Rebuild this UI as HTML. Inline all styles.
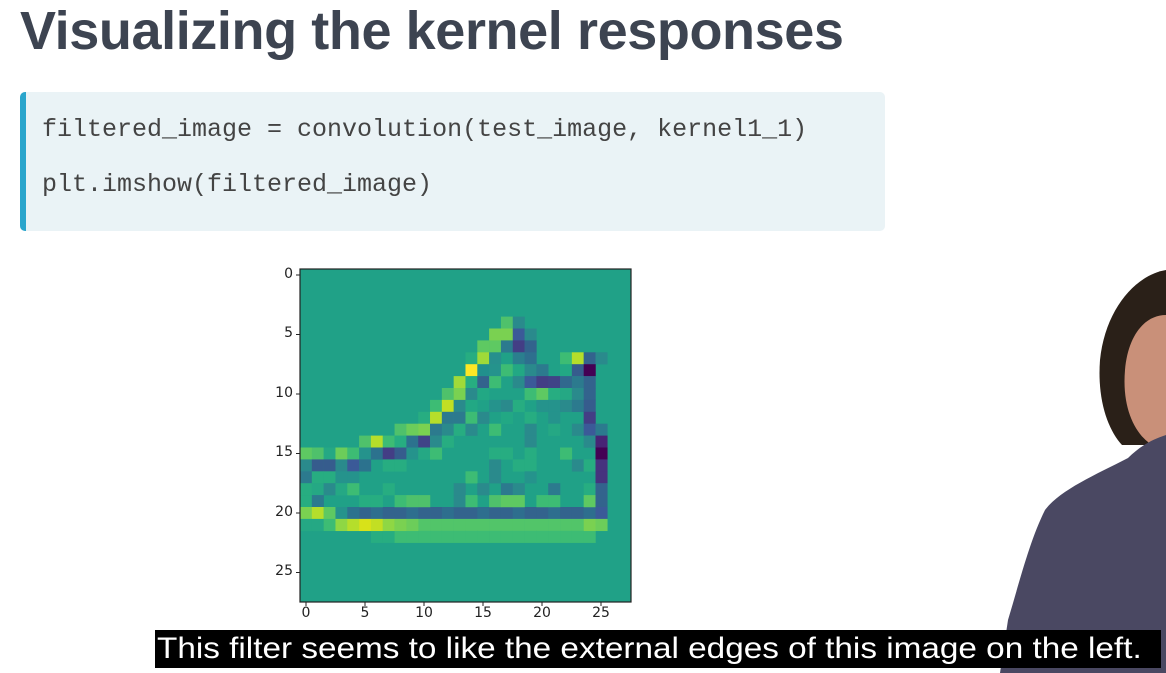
<!DOCTYPE html>
<html><head><meta charset="utf-8"><style>
body{margin:0;width:1166px;height:673px;background:#fff;position:relative;overflow:hidden;font-family:"Liberation Sans",sans-serif}
.t{position:absolute;left:20px;top:0px;font-weight:bold;font-size:54px;color:#3d4451;letter-spacing:-0.4px;white-space:nowrap}
.code{position:absolute;left:20px;top:92px;width:865px;height:139px;background:#eaf3f6;border-radius:5px;border-left:6px solid #2aa5cc;box-sizing:border-box}
.code div{position:absolute;left:16px;font-family:"Liberation Mono",monospace;font-size:25px;color:#444;white-space:nowrap}
.yl{position:absolute;font-family:"DejaVu Sans",sans-serif;font-size:14px;color:#222;text-align:right;width:30px}
.xl{position:absolute;font-family:"DejaVu Sans",sans-serif;font-size:14px;color:#222;text-align:center;width:30px;top:605px}
.sub{position:absolute;left:155px;top:630px;width:1006px;height:38px;background:#000;color:#fff;font-size:30px;line-height:38px;white-space:nowrap;padding-left:2px;box-sizing:border-box}
.sub span{display:inline-block;transform:scaleX(1.11);transform-origin:left center}
</style></head><body>
<div class="t">Visualizing the kernel responses</div>
<div class="code"><div style="top:23px">filtered_image = convolution(test_image, kernel1_1)</div><div style="top:78px">plt.imshow(filtered_image)</div></div>

<svg style="position:absolute;left:0;top:0" width="1166" height="673">
<g transform="translate(1000,270)">
<path d="M166 0 C135 5 105 40 100 90 C97 130 108 160 122 175 L166 175 Z" fill="#2a2018"/>
<path d="M166 45 C145 45 128 65 125 100 C122 135 133 160 148 172 C153 180 160 185 166 186 Z" fill="#c99079"/>
<path d="M166 165 C150 170 138 178 128 188 C95 205 60 220 45 240 C30 270 20 310 8 350 L0 403 L166 403 Z" fill="#4a4862"/>
</g>
<g transform="translate(300,269) scale(11.82,11.9)">
<rect width="28" height="28" fill="#20a187"/>
<g id="c"></g>
</g>
<rect x="300" y="269" width="331" height="333" fill="none" stroke="#222" stroke-width="1.2"/>
<g stroke="#222" stroke-width="1">
<line x1="296" y1="275" x2="300" y2="275"/><line x1="296" y1="334.5" x2="300" y2="334.5"/><line x1="296" y1="394" x2="300" y2="394"/><line x1="296" y1="453.5" x2="300" y2="453.5"/><line x1="296" y1="513" x2="300" y2="513"/><line x1="296" y1="572.5" x2="300" y2="572.5"/>
<line x1="306" y1="602" x2="306" y2="606"/><line x1="365" y1="602" x2="365" y2="606"/><line x1="424" y1="602" x2="424" y2="606"/><line x1="483" y1="602" x2="483" y2="606"/><line x1="542" y1="602" x2="542" y2="606"/><line x1="601" y1="602" x2="601" y2="606"/>
</g>
</svg>
<div class="yl" style="left:263px;top:266px">0</div><div class="yl" style="left:263px;top:325px">5</div><div class="yl" style="left:263px;top:385px">10</div><div class="yl" style="left:263px;top:444px">15</div><div class="yl" style="left:263px;top:504px">20</div><div class="yl" style="left:263px;top:563px">25</div>
<div class="xl" style="left:291px">0</div><div class="xl" style="left:350px">5</div><div class="xl" style="left:409px">10</div><div class="xl" style="left:468px">15</div><div class="xl" style="left:527px">20</div><div class="xl" style="left:586px">25</div>
<div class="sub"><span>This filter seems to like the external edges of this image on the left.</span></div>
<script>
var cells=[
[4,17,'#4fc16b'],[4,18,'#2a8a8c'],
[5,16,'#7ad151'],[5,17,'#7ad151'],[5,18,'#3b5a98'],[5,19,'#2a8a8c'],
[6,15,'#5ec962'],[6,16,'#5ec962'],[6,17,'#2c7a8e'],[6,18,'#433e85'],[6,19,'#33638d'],
[7,14,'#27ad81'],[7,15,'#a0da39'],[7,16,'#27908d'],[7,18,'#2a7f8e'],[7,19,'#2e6f8e'],[7,22,'#3dbc74'],[7,23,'#b5de2b'],[7,24,'#33638d'],[7,25,'#2a8a8c'],
[8,14,'#fde725'],[8,15,'#21908d'],[8,16,'#25938c'],[8,17,'#3dbc74'],[8,18,'#22a884'],[8,19,'#2a8a8c'],[8,20,'#2c7a8e'],[8,22,'#22a884'],[8,23,'#365c8d'],[8,24,'#440154'],
[9,13,'#a0da39'],[9,14,'#27ad81'],[9,15,'#33638d'],[9,16,'#3dbc74'],[9,18,'#2a8a8c'],[9,19,'#3b5a98'],[9,20,'#433e85'],[9,21,'#404387'],[9,22,'#31688e'],[9,23,'#2c7a8e'],[9,24,'#33638d'],
[10,12,'#4fc16b'],[10,13,'#7ad151'],[10,14,'#2a8a8c'],[10,15,'#22a884'],[10,19,'#3dbc74'],[10,20,'#5ec962'],[10,21,'#27ad81'],[10,22,'#25a884'],[10,23,'#2a8a8c'],[10,24,'#33638d'],
[11,11,'#3dbc74'],[11,12,'#c2df23'],[11,13,'#2a8a8c'],[11,14,'#22a884'],[11,16,'#25938c'],[11,17,'#2a8a8c'],[11,18,'#27ad81'],[11,20,'#25938c'],[11,21,'#25938c'],[11,22,'#2a8a8c'],[11,23,'#2c7a8e'],[11,24,'#365c8d'],
[12,10,'#27ad81'],[12,11,'#b5de2b'],[12,12,'#2c7a8e'],[12,13,'#2c7a8e'],[12,14,'#3dbc74'],[12,15,'#2a8a8c'],[12,17,'#22a884'],[12,19,'#27ad81'],[12,21,'#25938c'],[12,24,'#433e85'],
[13,8,'#4fc16b'],[13,9,'#6ccd5a'],[13,10,'#7ad151'],[13,11,'#2c7a8e'],[13,12,'#2a8a8c'],[13,13,'#27ad81'],[13,14,'#2a8a8c'],[13,16,'#3dbc74'],[13,19,'#2a8a8c'],[13,21,'#25a884'],[13,23,'#2a8a8c'],[13,24,'#3b5a98'],[13,25,'#2c7a8e'],
[14,5,'#4fc16b'],[14,6,'#b5de2b'],[14,7,'#3dbc74'],[14,8,'#27ad81'],[14,9,'#2c728e'],[14,10,'#404387'],[14,11,'#2a8a8c'],[14,12,'#27ad81'],[14,19,'#2a8a8c'],[14,24,'#2a8a8c'],[14,25,'#482475'],
[15,0,'#5ec962'],[15,1,'#4fc16b'],[15,2,'#25a884'],[15,3,'#6ccd5a'],[15,4,'#3dbc74'],[15,5,'#25938c'],[15,6,'#2c728e'],[15,7,'#433e85'],[15,8,'#365c8d'],[15,9,'#25938c'],[15,10,'#25a884'],[15,11,'#3dbc74'],[15,16,'#27ad81'],[15,17,'#27ad81'],[15,19,'#27ad81'],[15,22,'#3dbc74'],[15,25,'#440154'],
[16,0,'#2a8a8c'],[16,1,'#365c8d'],[16,2,'#365c8d'],[16,3,'#2a8a8c'],[16,4,'#3b5a98'],[16,5,'#2c728e'],[16,7,'#27ad81'],[16,8,'#27ad81'],[16,16,'#2a8a8c'],[16,18,'#27ad81'],[16,19,'#27ad81'],[16,23,'#2a8a8c'],[16,24,'#27ad81'],[16,25,'#46337e'],
[17,0,'#2c7a8e'],[17,1,'#27ad81'],[17,2,'#27ad81'],[17,3,'#25938c'],[17,4,'#25938c'],[17,14,'#3dbc74'],[17,16,'#2a8a8c'],[17,19,'#25938c'],[17,25,'#46337e'],
[18,0,'#27ad81'],[18,1,'#25a884'],[18,2,'#2a8a8c'],[18,3,'#25a884'],[18,4,'#3dbc74'],[18,7,'#27ad81'],[18,13,'#2a8a8c'],[18,15,'#2a8a8c'],[18,17,'#2c7a8e'],[18,18,'#2a8a8c'],[18,21,'#2c7a8e'],[18,24,'#27ad81'],[18,25,'#33638d'],
[19,0,'#27ad81'],[19,1,'#2c7a8e'],[19,5,'#27ad81'],[19,6,'#27ad81'],[19,8,'#3dbc74'],[19,9,'#4fc16b'],[19,10,'#4fc16b'],[19,13,'#2a8a8c'],[19,14,'#3dbc74'],[19,16,'#4fc16b'],[19,17,'#5ec962'],[19,18,'#5ec962'],[19,20,'#3dbc74'],[19,21,'#3dbc74'],[19,24,'#5ec962'],[19,25,'#33638d'],
[20,0,'#7ad151'],[20,1,'#b5de2b'],[20,2,'#5ec962'],[20,3,'#25938c'],[20,4,'#2c728e'],[20,25,'#3b5a98'],
[21,0,'#25a884'],[21,1,'#25a884'],[21,2,'#3dbc74'],[21,3,'#8fd744'],[21,4,'#b5de2b'],[21,5,'#d8e219'],[21,6,'#c2df23'],[21,7,'#8fd744'],[21,8,'#7ad151'],[21,9,'#6ccd5a'],[21,24,'#7ad151'],[21,25,'#6ccd5a']
];
var g=document.getElementById('c'),s='';
for(var c=5;c<25;c++)s+='<rect x="'+c+'" y="20" width="1.02" height="1.02" fill="'+(c%3?'#33638d':'#2e6e8e')+'"/>';
for(var c=10;c<24;c++)s+='<rect x="'+c+'" y="21" width="1.02" height="1.02" fill="#52c569"/>';
for(var c=6;c<25;c++)s+='<rect x="'+c+'" y="22" width="1.02" height="1.02" fill="'+(c<8?'#27ad81':'#3dbc74')+'"/>';
cells.forEach(function(k){s+='<rect x="'+k[1]+'" y="'+k[0]+'" width="1.02" height="1.02" fill="'+k[2]+'"/>';});
g.innerHTML=s;
</script>
</body></html>
